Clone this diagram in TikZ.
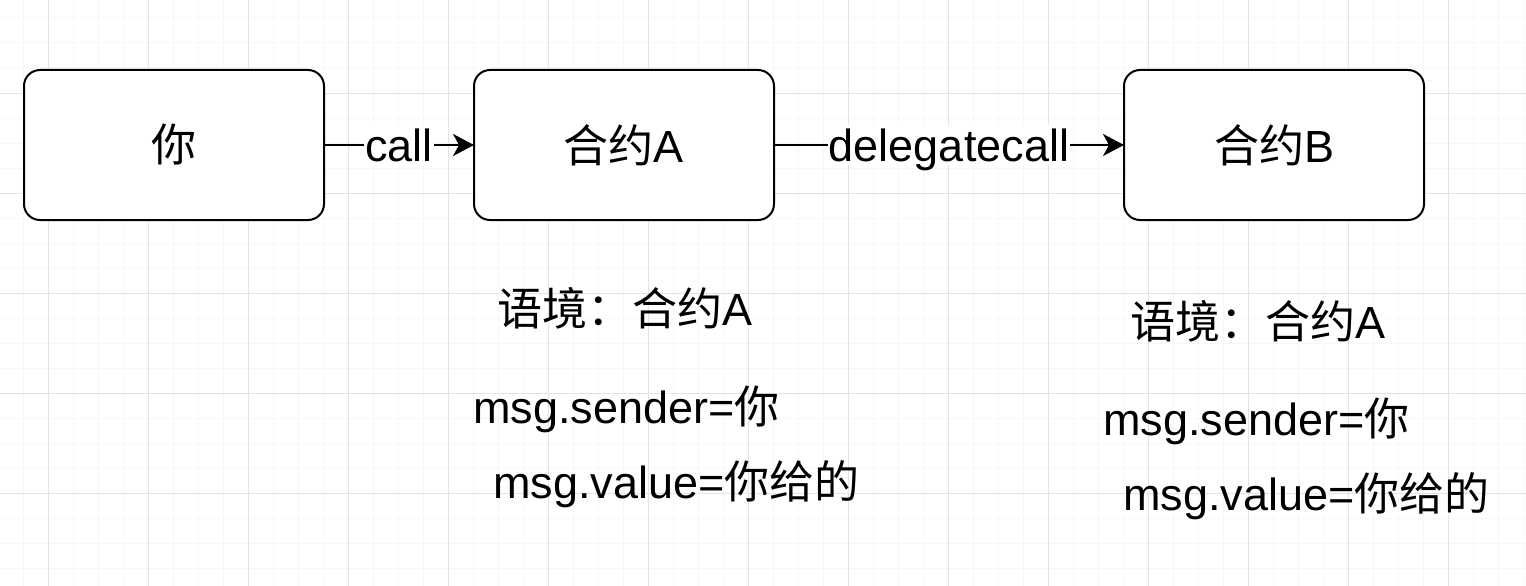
\documentclass[tikz,border=0pt]{standalone}
\usepackage{fontspec}
\setmainfont{Liberation Sans}
\newfontfamily\cjk{Noto Sans CJK SC}
\usetikzlibrary{positioning, arrows.meta}
\tikzstyle{contract} = [rectangle, rounded corners=16pt, minimum width=300pt, minimum height=150pt, outer sep=0pt, text centered, draw=black, fill=white, line width=2pt]
\tikzstyle{arrow} = [line width=2pt, ->, >={Stealth[length=21pt, width=22pt, inset=6pt]}]
\tikzstyle{lbl} = [fill=white, inner xsep=1pt, inner ysep=4pt, text depth=0pt]
\tikzstyle{note} = [anchor=base west, inner sep=0pt]

\begin{document}
\begin{tikzpicture}[x=1pt, y=1pt, font=\fontsize{45}{52}\selectfont]
\useasboundingbox (0,0) rectangle (1526,-586);
\fill[white] (0,0) rectangle (1526,-586);
% grid
\foreach \x in {23,48,...,1523} \draw[gray!6, line width=1pt] (\x,0) -- (\x,-586);
\foreach \y in {18,43,...,583} \draw[gray!6, line width=1pt] (0,-\y) -- (1526,-\y);
\foreach \x in {48,148,...,1448} \draw[gray!22, line width=1pt] (\x,0) -- (\x,-586);
\foreach \y in {93,193,...,493} \draw[gray!22, line width=1pt] (0,-\y) -- (1526,-\y);

\node (you) [contract] at (174,-145) {\cjk 你};
\node (ca) [contract, right=150pt of you] {{\cjk 合约}A};
\node (cb) [contract, right=350pt of ca] {{\cjk 合约}B};

\draw [arrow] (you) -- node[lbl] {call} (ca);
\draw [arrow] (ca) -- node[lbl] {delegatecall} (cb);

\node (ctxa) [note] at (497,-325) {{\cjk 语境：合约}A};
\node (sendera) [note] at (473,-423) {msg.sender={\cjk 你}};
\node (valuea) [note] at (493,-498) {msg.value={\cjk 你给的}};

\node (ctxb) [note] at (1130,-338) {{\cjk 语境：合约}A};
\node (senderb) [note] at (1103,-435) {msg.sender={\cjk 你}};
\node (valueb) [note] at (1123,-510) {msg.value={\cjk 你给的}};
\end{tikzpicture}
\end{document}
